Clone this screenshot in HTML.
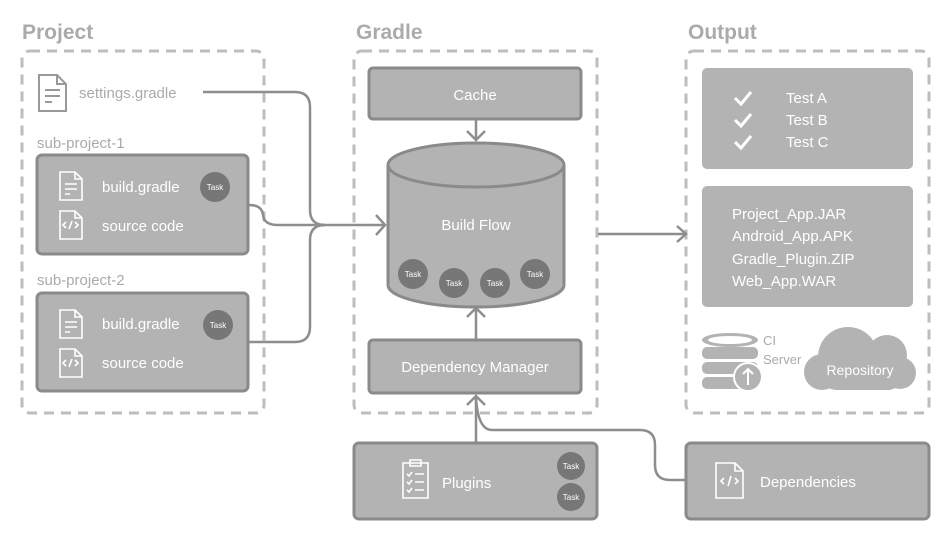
<!DOCTYPE html>
<html><head><meta charset="utf-8"><style>body{margin:0;background:#fff}svg{display:block}text{font-family:"Liberation Sans",sans-serif}</style></head><body>
<svg width="950" height="540" viewBox="0 0 950 540" xmlns="http://www.w3.org/2000/svg">
<g font-weight="bold" font-size="21" fill="#ababab">
<text x="22" y="39">Project</text><text x="356" y="39">Gradle</text><text x="688" y="39">Output</text></g>
<g fill="none" stroke="#bdbdbd" stroke-width="3" stroke-dasharray="10 7">
<rect x="22" y="51" width="242" height="362" rx="8"/>
<rect x="354" y="51" width="243" height="362" rx="8"/>
<rect x="686" y="51" width="243" height="362" rx="8"/></g>
<!-- connectors -->
<g fill="none" stroke="#8e8e8e" stroke-width="2.5">
<path d="M203 92 H295 Q310 92 310 107 V210 Q310 225 325 225 H384"/>
<path d="M249 205 Q262 205 263 215 Q264 225 278 225 H325"/>
<path d="M249 342 H295 Q310 342 310 327 V240 Q310 225 325 225"/>
<path d="M376 215 L385 225 L376 235"/>
<path d="M476 120 V140 M467 131 L476 140 L485 131"/>
<path d="M476 340 V308 M467 317 L476 308 L485 317"/>
<path d="M476 443 V396 M467 405 L476 396 L485 405"/>
<path d="M686 480 H670 Q655 480 655 465 V445 Q655 430 640 430 H492 Q478 430 476 398"/>
<path d="M598 234 H685 M677 226 L686 234 L677 242"/>
</g>
<!-- settings icon -->
<g fill="none" stroke="#999" stroke-width="2"><path d="M39 75 H57 L66 84 V111 H39 Z M57 75 V84 H66 M45 90 H60 M45 96 H60 M45 102 H52"/></g>
<text x="79" y="98" font-size="15" fill="#aaa">settings.gradle</text>
<text x="37" y="148" font-size="15" fill="#aaa">sub-project-1</text>
<text x="37" y="285" font-size="15" fill="#aaa">sub-project-2</text>
<g fill="#b3b3b3" stroke="#8a8a8a" stroke-width="3">
<rect x="37" y="155" width="211" height="99" rx="5"/>
<rect x="37" y="293" width="211" height="98" rx="5"/>
<rect x="369" y="68" width="212" height="51" rx="4"/>
<rect x="369" y="340" width="212" height="53" rx="4"/>
<rect x="354" y="443" width="243" height="76" rx="5"/>
<rect x="686" y="443" width="243" height="76" rx="5"/>
<path d="M388 165 V285 A88 22 0 0 0 564 285 V165 A88 22 0 0 0 388 165 A88 22 0 0 0 564 165"/>
</g>
<g fill="#b3b3b3"><rect x="702" y="68" width="211" height="101" rx="5"/><rect x="702" y="186" width="211" height="121" rx="5"/></g>
<!-- file icons white -->
<g fill="none" stroke="#fff" stroke-width="1.6">
<path d="M60 172 H75 L82 179 V200 H60 Z M75 172 V179 H82 M65 184 H77 M65 189 H77 M65 194 H70"/>
<path d="M60 211 H75 L82 218 V239 H60 Z M75 211 V218 H82 M66 228 L63 225 L66 222 M69 229 L72 221 M75 222 L78 225 L75 228"/>
<path d="M60 310 H75 L82 317 V338 H60 Z M75 310 V317 H82 M65 322 H77 M65 327 H77 M65 332 H70"/>
<path d="M60 349 H75 L82 356 V377 H60 Z M75 349 V356 H82 M66 366 L63 363 L66 360 M69 367 L72 359 M75 360 L78 363 L75 366"/>
<path d="M716 463 H735 L743 471 V498 H716 Z M735 463 V471 H743 M724 484 L721 481 L724 478 M728 486 L731 476 M735 478 L738 481 L735 484"/>
<path d="M403 463 H428 V498 H403 Z M410 460 H421 V466 H410 Z M407 474 L409 476 L412 472 M415 474 H424 M407 482 L409 484 L412 480 M415 482 H424 M407 490 L409 492 L412 488 M415 490 H424"/>
<path d="M735 98 L741 104 L751 92 M735 120 L741 126 L751 114 M735 142 L741 148 L751 136" stroke-width="3"/>
</g>
<g fill="#fff" font-size="15">
<text x="102" y="192">build.gradle</text><text x="102" y="231">source code</text>
<text x="102" y="329">build.gradle</text><text x="102" y="368">source code</text>
<text x="475" y="100" text-anchor="middle">Cache</text>
<text x="475" y="372" text-anchor="middle">Dependency Manager</text>
<text x="476" y="230" text-anchor="middle">Build Flow</text>
<text x="442" y="488">Plugins</text>
<text x="760" y="487">Dependencies</text>
<text x="786" y="103">Test A</text><text x="786" y="125">Test B</text><text x="786" y="147">Test C</text>
<text x="732" y="219">Project_App.JAR</text><text x="732" y="241">Android_App.APK</text><text x="732" y="264">Gradle_Plugin.ZIP</text><text x="732" y="286">Web_App.WAR</text>
</g>
<!-- tasks -->
<g fill="#777"><circle cx="215" cy="187" r="15"/><circle cx="218" cy="325" r="15"/>
<circle cx="413" cy="274" r="15"/><circle cx="454" cy="283" r="15"/><circle cx="495" cy="283" r="15"/><circle cx="535" cy="274" r="15"/>
<circle cx="571" cy="466" r="14"/><circle cx="571" cy="497" r="14"/></g>
<g fill="#fff" font-size="8" text-anchor="middle">
<text x="215" y="190">Task</text><text x="218" y="328">Task</text><text x="413" y="277">Task</text><text x="454" y="286">Task</text><text x="495" y="286">Task</text><text x="535" y="277">Task</text><text x="571" y="469">Task</text><text x="571" y="500">Task</text></g>
<!-- CI server -->
<g fill="#b3b3b3"><ellipse cx="730" cy="340" rx="28" ry="7"/><rect x="702" y="347" width="56" height="12" rx="5"/><rect x="702" y="362" width="56" height="12" rx="5"/><rect x="702" y="377" width="56" height="12" rx="5"/></g>
<ellipse cx="730" cy="340" rx="22" ry="4" fill="#fff"/>
<circle cx="748" cy="377" r="14" fill="#b3b3b3" stroke="#fff" stroke-width="2"/>
<path d="M748 385 V369 M743 374 L748 369 L753 374" stroke="#fff" stroke-width="2" fill="none"/>
<text x="763" y="345" font-size="13" fill="#aaa">CI</text><text x="763" y="364" font-size="13" fill="#aaa">Server</text>
<g fill="#b3b3b3"><circle cx="848" cy="357" r="30"/><circle cx="887" cy="355" r="20"/><circle cx="822" cy="372" r="18"/><circle cx="900" cy="373" r="16"/><rect x="822" y="360" width="80" height="30" rx="14"/></g>
<text x="860" y="375" font-size="14" fill="#fff" text-anchor="middle">Repository</text>
</svg></body></html>
